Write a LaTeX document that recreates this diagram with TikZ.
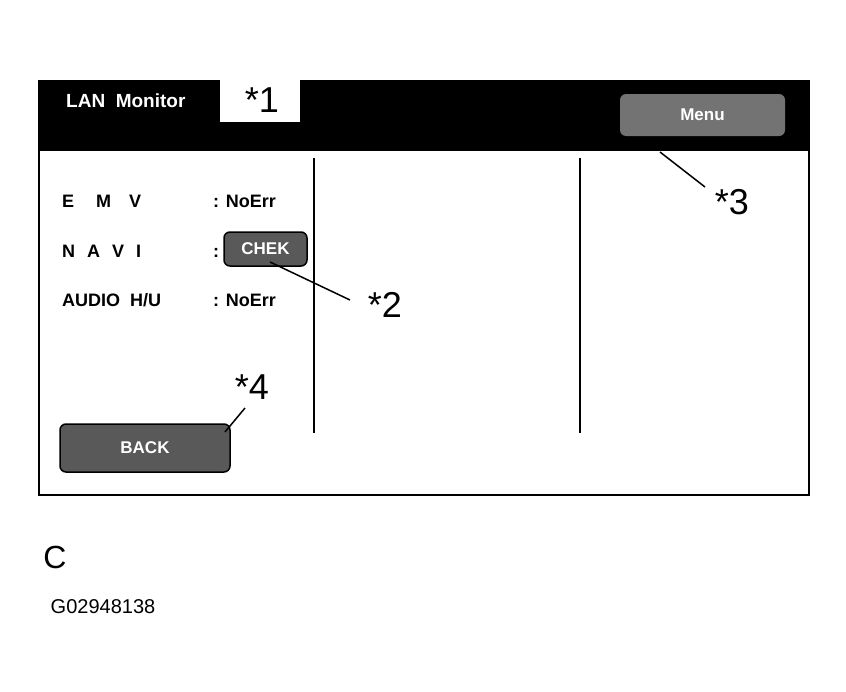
\documentclass[tikz,border=0pt]{standalone}
\usepackage{fontspec}
\setmainfont{Liberation Sans}
\usetikzlibrary{patterns}
\begin{document}
\begin{tikzpicture}[x=1pt,y=-1pt,
  ui/.style={font=\bfseries\fontsize{18}{20}\selectfont,inner sep=0pt,anchor=base west},
  star/.style={font=\fontsize{36}{38}\selectfont,inner sep=0pt},
  btn/.style={draw=black,line width=1.5pt,rounded corners=6pt,fill=black!65,
    font=\bfseries\fontsize{17}{18}\selectfont,text=white},
  lead/.style={line width=1.5pt}]
\useasboundingbox (0,0) rectangle (846,691);
\node[draw,line width=2pt,minimum width=770pt,minimum height=414pt,inner sep=0pt,anchor=north west] (frame) at (38,80) {};
\fill[black] (38,80) rectangle (808,151);
\fill[white] (220,80) rectangle (300,122);
\node[ui,text=white,font=\bfseries\fontsize{19}{20}\selectfont] (lan) at (66,107) {LAN\ \ Monitor};
\node[star] (s1) at (262,100) {*1};
\draw[line width=2pt] (314,158) coordinate (v1a) -- (314,433) coordinate (v1b);
\draw[line width=2pt] (580,158) coordinate (v2a) -- (580,433) coordinate (v2b);
\node[ui] (emv) at (62,207) {E\hspace{22pt}M\hspace{18pt}V};
\node[ui] (emvv) at (213,207) {: NoErr};
\node[ui] (navi) at (62,257) {N\hspace{12pt}A\hspace{12pt}V\hspace{12pt}I};
\node[ui] (navc) at (213,257) {:};
\node[ui] (aud) at (62,306) {AUDIO\hspace{10pt}H/U};
\node[ui] (audv) at (213,306) {: NoErr};
\node[btn,minimum width=165pt,minimum height=42pt,draw=none,fill=black!55] (menu) at (702.5,115) {Menu};
\node[btn,minimum width=83pt,minimum height=34pt,inner sep=0pt] (chek) at (265.5,249) {CHEK};
\node[btn,minimum width=170pt,minimum height=48pt] (back) at (145,448) {BACK};
\node[star] (s2) at (385,305) {*2};
\node[star] (s3) at (732,202) {*3};
\node[star] (s4) at (252,387) {*4};
\coordinate (c2) at (350,300);
\coordinate (c3) at (705,187);
\coordinate (c4) at (245,408);
\draw[lead] (270,262) -- (c2);
\draw[lead] (660,152) -- (c3);
\draw[lead] (225,432) -- (c4);
\node[font=\fontsize{32}{34}\selectfont,inner sep=0pt] (C) at (55,557) {C};
\node[font=\fontsize{20}{22}\selectfont,inner sep=0pt] (code) at (103,607) {G02948138};
\end{tikzpicture}
\end{document}
